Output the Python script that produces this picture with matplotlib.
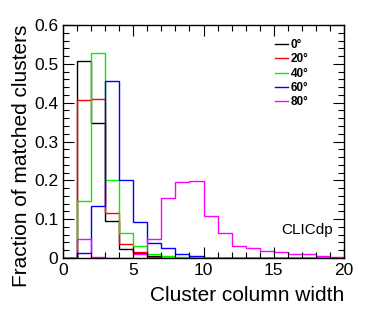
import numpy as np
import matplotlib
matplotlib.use("Agg")
import matplotlib.pyplot as plt
from matplotlib.ticker import MultipleLocator

plt.rcParams['font.family'] = ['Liberation Sans', 'DejaVu Sans']

# Bin edges for cluster column width (unit bins from 0 to 20)
edges = np.arange(0, 21)

# Fraction of matched clusters per bin, one list per incidence angle
frac_0 = [0.0, 0.508, 0.348, 0.095, 0.024, 0.012, 0.004, 0.001, 0, 0, 0, 0, 0, 0, 0, 0, 0, 0, 0, 0]
frac_20 = [0.0, 0.407, 0.41, 0.116, 0.037, 0.015, 0.003, 0.001, 0, 0, 0, 0, 0, 0, 0, 0, 0, 0, 0, 0]
frac_40 = [0.0, 0.147, 0.527, 0.2, 0.065, 0.031, 0.01, 0.004, 0.002, 0.001, 0, 0, 0, 0, 0, 0, 0, 0, 0, 0]
frac_60 = [0.0, 0.012, 0.135, 0.456, 0.201, 0.093, 0.039, 0.025, 0.01, 0.004, 0.001, 0.001, 0, 0, 0, 0, 0, 0, 0, 0]
frac_80 = [0.0, 0.049, 0.002, 0.001, 0.0, 0.01, 0.049, 0.154, 0.196, 0.198, 0.107, 0.065, 0.032, 0.025, 0.017, 0.016, 0.011, 0.01, 0.006, 0.003]

labels = ['0°', '20°', '40°', '60°', '80°']
colors = ['black', '#ff0000', '#00f000', '#0000ff', '#ff00ff']
series = [frac_0, frac_20, frac_40, frac_60, frac_80]

fig = plt.figure(figsize=(3.74, 3.16), dpi=100)
ax = fig.add_axes([63 / 374, 1 - 258 / 316, 281 / 374, 233 / 316])

for vals, col, lab in zip(series, colors, labels):
    ax.stairs(vals, edges, color=col, lw=1.0, label=lab)

ax.set_xlim(0, 20)
ax.set_ylim(0, 0.6)

# ROOT-like ticks: inward, on all sides
ax.xaxis.set_major_locator(MultipleLocator(5))
ax.xaxis.set_minor_locator(MultipleLocator(1))
ax.yaxis.set_major_locator(MultipleLocator(0.1))
ax.yaxis.set_minor_locator(MultipleLocator(0.02))
ax.tick_params(which='both', direction='in', top=True, right=True, labelsize=12.5)
ax.tick_params(which='major', length=8, width=0.8)
ax.tick_params(which='minor', length=4, width=0.8)
ax.set_yticks([0, 0.1, 0.2, 0.3, 0.4, 0.5, 0.6])
ax.set_yticklabels(['0', '0.1', '0.2', '0.3', '0.4', '0.5', '0.6'])
for s in ax.spines.values():
    s.set_linewidth(1.0)

ax.set_xlabel('Cluster column width', fontsize=15, loc='right', labelpad=6)
ax.set_ylabel('Fraction of matched clusters', fontsize=15, loc='top', labelpad=2)

leg = ax.legend(loc='upper left', bbox_to_anchor=(0.755, 0.94), frameon=False,
                borderaxespad=0, borderpad=0,
                handlelength=1.1, handletextpad=0.2, labelspacing=0.2,
                prop={'size': 8.5, 'weight': 'bold'})

ax.text(0.96, 0.12, 'CLICdp', transform=ax.transAxes, ha='right', va='center', fontsize=11)

fig.savefig('out.png', dpi=100)
